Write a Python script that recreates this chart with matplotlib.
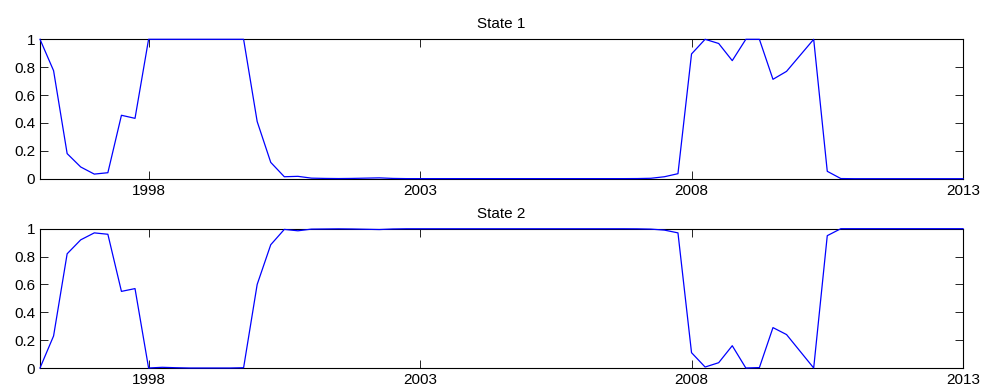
import numpy as np
import matplotlib
matplotlib.use("Agg")
import matplotlib.pyplot as plt

plt.rcParams['font.family'] = ['Liberation Sans', 'DejaVu Sans']

start_year = 1996.0
step = 0.25
state1 = [1.0, 0.775, 0.18, 0.084, 0.033, 0.043, 0.455, 0.433,
          1.0, 1.0, 1.0, 1.0, 1.0, 1.0, 1.0, 1.0,
          0.41, 0.117, 0.014, 0.017, 0.004, 0.002, 0.001, 0.002,
          0.004, 0.006, 0.002, 0.0005, 0.0005, 0.0005, 0.0005, 0.0005,
          0.0005, 0.0005, 0.0005, 0.0005, 0.0005, 0.0005, 0.0005, 0.0005,
          0.0005, 0.0005, 0.0005, 0.0005, 0.001, 0.003, 0.014, 0.036,
          0.895, 1.0, 0.97, 0.847, 1.0, 1.0, 0.713, 0.77,
          0.885, 1.0, 0.053, 0.001, 0.0, 0.0, 0.0, 0.0,
          0.0, 0.0, 0.0, 0.0, 0.0]
state2 = [0.0, 0.23, 0.82, 0.92, 0.97, 0.96, 0.55, 0.57,
          0.0, 0.005, 0.002, 0.0, 0.0, 0.0, 0.0, 0.002,
          0.60, 0.885, 0.995, 0.985, 0.997, 0.998, 0.999, 0.998,
          0.996, 0.994, 0.998, 0.9995, 0.9995, 0.9995, 0.9995, 0.9995,
          0.9995, 0.9995, 0.9995, 0.9995, 0.9995, 0.9995, 0.9995, 0.9995,
          0.9995, 0.9995, 0.9995, 0.9995, 0.999, 0.997, 0.99, 0.97,
          0.11, 0.007, 0.038, 0.16, 0.0, 0.003, 0.29, 0.24,
          0.12, 0.0, 0.95, 1.0, 1.0, 1.0, 1.0, 1.0,
          1.0, 1.0, 1.0, 1.0, 1.0]
titles = ["State 1", "State 2"]
xticks = [1998, 2003, 2008, 2013]
yticks = [0, 0.2, 0.4, 0.6, 0.8, 1]
ytick_labels = ["0", "0.2", "0.4", "0.6", "0.8", "1"]

x = start_year + step * np.arange(len(state1))

fig = plt.figure(figsize=(9.84, 3.86), dpi=100)
W, H = 984, 386
left, right = 40, 963
boxes = [(39.3, 178.7), (228.7, 368.0)]

for (top, bottom), series, title in zip(boxes, [state1, state2], titles):
    ax = fig.add_axes([left / W, 1 - bottom / H, (right - left) / W, (bottom - top) / H])
    ax.plot(x, series, color=(0, 0, 1), lw=0.9, zorder=3, clip_on=False)
    ax.set_xlim(1996, 2013)
    ax.set_ylim(0, 1)
    ax.set_xticks(xticks)
    ax.set_xticklabels([str(t) for t in xticks])
    ax.set_yticks(yticks)
    ax.set_yticklabels(ytick_labels)
    ax.tick_params(direction='in', length=5.5, width=0.6, top=True, right=True,
                   labelsize=11, pad=3.5, colors='black')
    for s in ax.spines.values():
        s.set_linewidth(0.8)
    ax.set_title(title, fontsize=11, pad=8)

fig.savefig("out.png", dpi=100)
